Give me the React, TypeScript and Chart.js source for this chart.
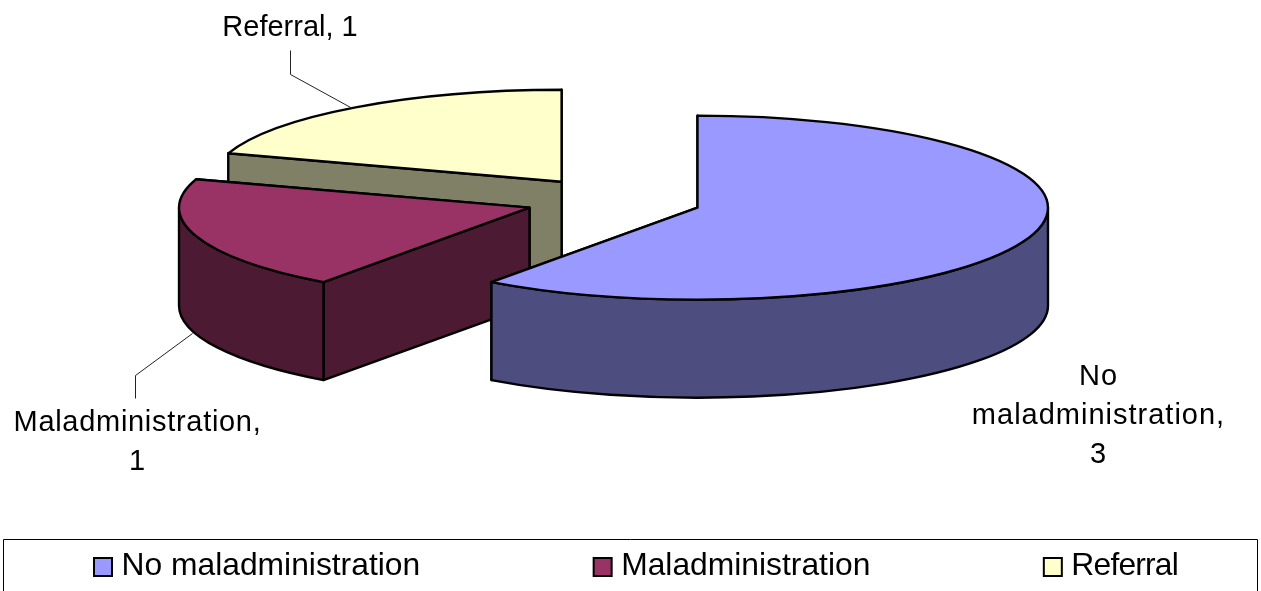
import React, { useEffect, useRef } from "react";
import { Chart, registerables } from "chart.js";

Chart.register(...registerables);

const categories = ["No maladministration", "Maladministration", "Referral"];
const cases = [3, 1, 1];
const topColours = ["#9999FF", "#993366", "#FFFFCC"];
const wallColours = ["#4D4D80", "#4D1A33", "#808066"];
const labelLines = [
  ["No", "maladministration,", "3"],
  ["Maladministration,", "1"],
  ["Referral, 1"],
];

const FONT_FAMILY = '"Liberation Sans", Arial, sans-serif';
const WIDTH = 1261;
const HEIGHT = 591;

// Projection of the tilted pie onto the page
const view = { cx: 613.5, cy: 200.5, rx: 350.5, ry: 92, depth: 98, explode: 88.3 };

// Where each data label and its leader line sit
const labelAnchors = [
  { x: 1098.5, y: 377, spacing: 1 },
  { x: 137.5, y: 423, spacing: 0.7 },
  { x: 290, y: 28, spacing: 0 },
];
const leaders: number[][][] = [
  [],
  [[192, 333], [135, 375], [135, 398]],
  [[290, 50], [290, 74], [352, 108]],
];

// Legend row inside its frame
const legendLayout = { x: 94, y: 566, box: 18, textGap: 9.5, itemGap: 173.5, font: 31.8 };
const legendSpacing = [0, 0, -0.8];

const pie3d = {
  id: "pie3d",
  beforeDatasetsDraw(chart: any) {
    const ctx: CanvasRenderingContext2D = chart.ctx;
    const arcs = chart.getDatasetMeta(0).data;
    const { cx, cy, rx, ry, depth, explode } = view;

    // Painted back to front: the last slice sits furthest away
    for (let i = arcs.length - 1; i >= 0; i--) {
      const arc = arcs[i];
      const { startAngle: a0, endAngle: a1, x, y, outerRadius: r } = arc;
      const mid = (a0 + a1) / 2;
      const ox = cx + explode * Math.cos(mid);
      const oy = cy + (explode * Math.sin(mid) * ry) / rx;
      const px = (a: number) => ox + rx * Math.cos(a);
      const py = (a: number) => oy + ry * Math.sin(a);

      ctx.save();
      ctx.lineJoin = "round";
      ctx.lineWidth = 2.4;
      ctx.strokeStyle = "#000";
      ctx.fillStyle = wallColours[i];

      // Flat cut faces, far one first
      for (const a of [a1, a0]) {
        ctx.beginPath();
        ctx.moveTo(ox, oy);
        ctx.lineTo(px(a), py(a));
        ctx.lineTo(px(a), py(a) + depth);
        ctx.lineTo(ox, oy + depth);
        ctx.closePath();
        ctx.fill();
        ctx.stroke();
      }

      // Curved rim, only the part facing the viewer
      const from = Math.max(a0, 0);
      const to = Math.min(a1, Math.PI);
      if (to > from) {
        ctx.beginPath();
        ctx.ellipse(ox, oy, rx, ry, 0, from, to);
        ctx.ellipse(ox, oy + depth, rx, ry, 0, to, from, true);
        ctx.closePath();
        ctx.fill();
        ctx.stroke();
      }

      // Top face: the library's own arc, squashed into the ellipse
      ctx.save();
      ctx.translate(ox, oy);
      ctx.scale(rx / r, ry / r);
      ctx.translate(-x, -y);
      arc.draw(ctx);
      ctx.restore();

      ctx.beginPath();
      ctx.moveTo(ox, oy);
      ctx.ellipse(ox, oy, rx, ry, 0, a0, a1);
      ctx.closePath();
      ctx.stroke();
      ctx.restore();
    }
    return false;
  },
  afterDraw(chart: any) {
    const ctx: CanvasRenderingContext2D = chart.ctx;
    ctx.save();

    // Leader lines
    ctx.strokeStyle = "#222";
    ctx.lineWidth = 1;
    leaders.forEach((pts) => {
      if (!pts.length) return;
      ctx.beginPath();
      pts.forEach(([x, y], k) => (k ? ctx.lineTo(x + 0.5, y + 0.5) : ctx.moveTo(x + 0.5, y + 0.5)));
      ctx.stroke();
    });

    // Data labels
    ctx.fillStyle = "#000";
    ctx.font = `29px ${FONT_FAMILY}`;
    ctx.textAlign = "center";
    ctx.textBaseline = "middle";
    labelLines.forEach((lines, i) => {
      const a = labelAnchors[i];
      (ctx as any).letterSpacing = `${a.spacing}px`;
      lines.forEach((t, k) => ctx.fillText(t, a.x, a.y + k * 39));
    });
    (ctx as any).letterSpacing = "0px";

    // Legend frame, running off the bottom of the page
    ctx.strokeStyle = "#000";
    ctx.lineWidth = 1;
    ctx.beginPath();
    ctx.moveTo(3.5, HEIGHT);
    ctx.lineTo(3.5, 539.5);
    ctx.lineTo(1257.5, 539.5);
    ctx.lineTo(1257.5, HEIGHT);
    ctx.stroke();

    // Legend row: a swatch and a name for each slice
    const { x: startX, y, box, textGap, itemGap, font } = legendLayout;
    ctx.font = `${font}px ${FONT_FAMILY}`;
    ctx.textAlign = "left";
    let cursor = startX;
    (chart.data.labels as string[]).forEach((name, i) => {
      ctx.fillStyle = topColours[i];
      ctx.fillRect(cursor, y - box / 2 + 1, box, box);
      ctx.strokeStyle = "#000";
      ctx.lineWidth = 2;
      ctx.strokeRect(cursor, y - box / 2 + 1, box, box);
      ctx.fillStyle = "#000";
      (ctx as any).letterSpacing = `${legendSpacing[i]}px`;
      ctx.fillText(name, cursor + box + textGap, y);
      cursor += box + textGap + ctx.measureText(name).width + itemGap;
    });
    ctx.restore();
  },
};

export default function App() {
  const ref = useRef<HTMLCanvasElement>(null);

  useEffect(() => {
    const chart = new Chart(ref.current!, {
      type: "pie",
      data: {
        labels: categories,
        datasets: [
          {
            data: cases,
            backgroundColor: topColours,
            borderWidth: 0,
          },
        ],
      },
      options: {
        responsive: false,
        animation: false,
        plugins: {
          tooltip: { enabled: false },
          legend: { display: false },
        },
      },
      plugins: [pie3d],
    } as any);
    return () => chart.destroy();
  }, []);

  return (
    <div style={{ position: "fixed", left: 0, top: 0, width: WIDTH, height: HEIGHT, background: "#fff" }}>
      <canvas ref={ref} width={WIDTH} height={HEIGHT} style={{ display: "block" }} />
    </div>
  );
}
